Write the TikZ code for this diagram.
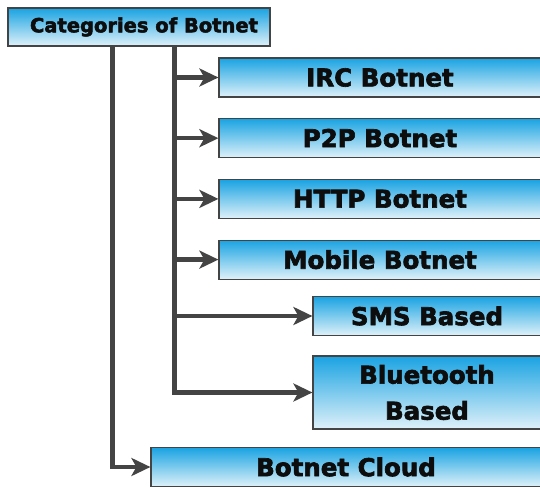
\documentclass[tikz,border=0pt]{standalone}
\usepackage{fontspec}
\setmainfont{DejaVu Sans}
\newfontfamily\heavy{DejaVu Sans Bold}[FakeBold=2.6]
\usepackage{xcolor}
\usepackage{tikz}
\usetikzlibrary{arrows.meta,positioning,calc}

\definecolor{boxtop}{HTML}{1AA3E2}
\definecolor{boxbottom}{HTML}{DFF1F9}
\definecolor{wire}{HTML}{444444}

\begin{document}
\begin{tikzpicture}[
    x=1pt, y=-1pt,
    node distance=20.5pt,
    cat/.style={rectangle, draw=wire, line width=1.2pt, top color=boxtop, bottom color=boxbottom, text=black!95, font=\heavy\fontsize{24.5}{36}\selectfont, align=center, inner sep=0pt, minimum width=322pt, minimum height=39pt},
    head/.style={cat, font=\heavy\fontsize{19.5}{24}\selectfont, minimum width=262pt, minimum height=38pt},
    trunk/.style={draw=wire, line width=4.5pt},
    arrow/.style={trunk, -{Stealth[length=19pt,width=18pt,inset=5pt]}}
]
\useasboundingbox[fill=white] (0,0) rectangle (540,487);

% Root
\node[head] (root) at (139,27) {\hspace*{10pt}Categories of Botnet};

% Main categories
\node[cat] (irc) at (380,77.5) {IRC Botnet};
\node[cat, below=of irc] (p2p) {P2P Botnet};
\node[cat, below=of p2p] (http) {HTTP Botnet};
\node[cat, below=of http] (mobile) {Mobile Botnet};

% Mobile variants
\node[cat, minimum width=228pt] (sms) at (427,316) {SMS Based};
\node[cat, minimum width=228pt, minimum height=73pt] (bluetooth) at (427,392.5) {Bluetooth\\Based};

\node[cat, minimum width=390pt] (cloud) at (346,467) {Botnet Cloud};

% Trunk lines
\coordinate (outer) at ($(root.south west)+(105,0)$);
\coordinate (inner) at ($(root.south west)+(167,0)$);

\draw[arrow] (outer) |- (cloud.west);
\draw[arrow] (inner) |- (bluetooth.west);
\foreach \leaf in {irc,p2p,http,mobile,sms}
    \draw[arrow] (inner |- \leaf.west) -- (\leaf.west);

\end{tikzpicture}
\end{document}
